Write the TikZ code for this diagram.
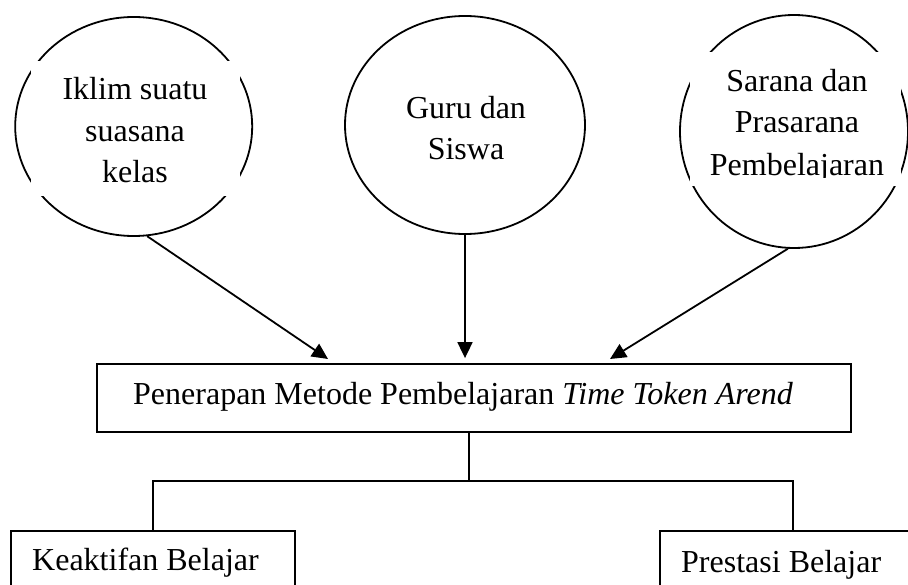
\documentclass[tikz,border=0pt]{standalone}
\usepackage{fontspec}
\setmainfont{Liberation Serif}
\usetikzlibrary{shapes.geometric,arrows.meta}
\begin{document}
\begin{tikzpicture}[x=1pt,y=-1pt,
  lw/.style={line width=1.8pt},
  bubble/.style={ellipse,draw,lw,inner sep=0pt},
  gapbox/.style={fill=white,draw=none},
  txt/.style={font=\fontsize{32}{40}\selectfont,inner sep=0pt,anchor=base},
  txtw/.style={font=\fontsize{32}{40}\selectfont,inner sep=0pt,anchor=base west},
  frame/.style={draw,lw,rectangle,inner sep=0pt},
  arr/.style={lw,-{Triangle[length=16pt,width=15pt]}}]
\useasboundingbox (0,0) rectangle (908,585);
\clip (0,0) rectangle (908,585);

% bubbles
\node[bubble,minimum width=237pt,minimum height=219pt] (c1) at (133.7,126.5) {};
\node[bubble,minimum width=240pt,minimum height=218pt] (c2) at (465,125) {};
\node[bubble,minimum width=228pt,minimum height=233pt] (c3) at (794,131.5) {};

% white text frames cutting the bubble outlines
\fill[gapbox] (31,61) rectangle (240,196);
\fill[gapbox] (690,52) rectangle (901,186);

% bubble texts
\node[txt] (c1a) at (135,100) {Iklim suatu};
\node[txt] (c1b) at (135,142) {suasana};
\node[txt] (c1c) at (135,183) {kelas};
\node[txt] (c2a) at (466,119) {Guru dan};
\node[txt] (c2b) at (466,160) {Siswa};
\node[txt] (c3a) at (797,92) {Sarana dan};
\node[txt] (c3b) at (797,133) {Prasarana};
\begin{scope}
\clip (680,0) rectangle (908,178);
\node[txt] (c3c) at (797,175.5) {Pembelajaran};
\end{scope}

% central box
\node[frame,minimum width=754pt,minimum height=68pt] (main) at (474,398) {};
\node[txtw] (maint) at (133,404) {Penerapan Metode Pembelajaran \textit{Time Token Arend}};

% outcome boxes (cut by the lower and right page edges)
\node[frame,minimum width=284pt,minimum height=80pt,anchor=north] (k) at (153,530) {};
\node[txtw] (kt) at (32,570) {Keaktifan Belajar};
\node[inner sep=0pt,minimum width=300pt,minimum height=80pt,anchor=north west] (p) at (660,531) {};
\draw[lw] (p.south west) -- (p.north west) -- (p.north east);
\node[txtw] (pt) at (681,572) {Prestasi Belajar};

% arrows into the central box
\coordinate (t1) at (328,359);
\coordinate (t3) at (610,359);
\draw[arr] (c1.277) -- (t1);
\draw[arr] (c2.south) -- ([yshift=5pt]c2.south |- main.north);
\draw[arr] (c3.267) -- (t3);

% tree to the outcomes
\coordinate (j) at (469,481);
\draw[lw] ([xshift=-5pt]main.south) -- (j);
\draw[lw] (k.north) |- (j) -| ([xshift=133pt]p.north west);
\end{tikzpicture}
\end{document}
